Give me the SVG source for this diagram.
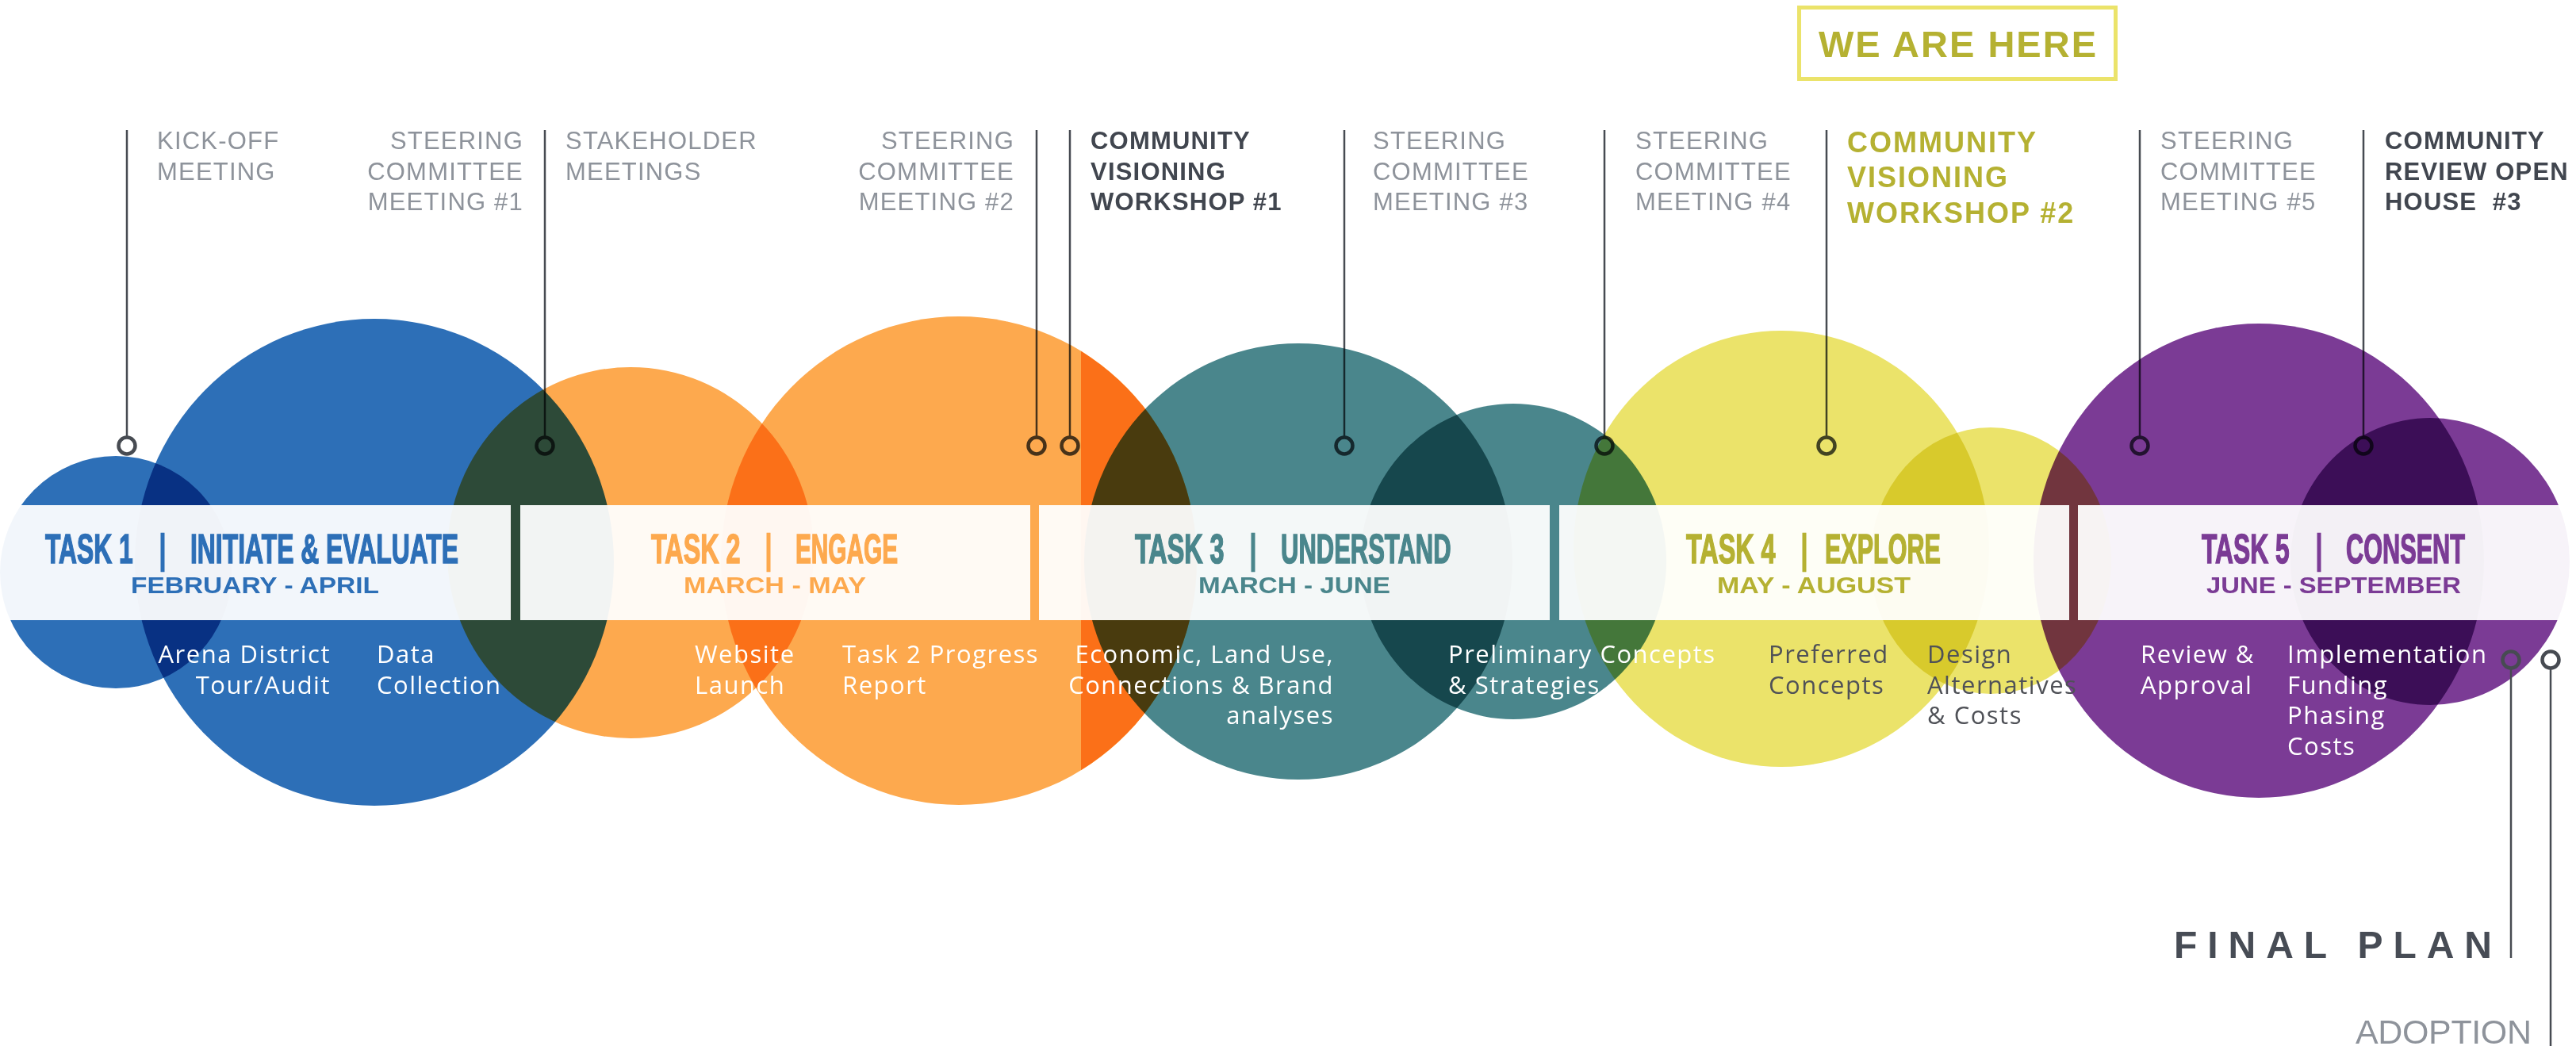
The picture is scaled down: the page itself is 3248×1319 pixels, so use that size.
<svg xmlns="http://www.w3.org/2000/svg" width="3248" height="1319" viewBox="0 0 3248 1319">
  <defs>
    <style>
      .mx { mix-blend-mode: multiply; }
      .blue { fill: #2D6FB7; }
      .orange { fill: #FDA94E; }
      .teal { fill: #4A868C; }
      .yellow { fill: #EBE36A; }
      .purple { fill: #7B3B95; }
      .band { fill: #FFFFFF; fill-opacity: 0.94; }
      .lead { stroke: #474B52; stroke-width: 2.5; fill: none; }
      .ring { stroke: #474B52; stroke-width: 4.5; fill: none; }
      .lbl { font-family: "Liberation Sans", Arial, sans-serif; font-size: 31px; letter-spacing: 1.2px; fill: #8E939B; }
      .cm { font-family: "Liberation Sans", Arial, sans-serif; font-size: 31px; letter-spacing: 1.2px; font-weight: bold; fill: #41464F; }
      .cm2 { font-family: "Liberation Sans", Arial, sans-serif; font-size: 36px; letter-spacing: 2px; font-weight: bold; fill: #B5B132; }
      .hd { font-family: "Liberation Sans", Arial, sans-serif; font-size: 52px; font-weight: bold; stroke-width: 1.6px; }
      .bar { font-family: "Liberation Sans", Arial, sans-serif; font-size: 52px; stroke-width: 0.6px; }
      .dt { font-family: "Liberation Sans", Arial, sans-serif; font-size: 29px; font-weight: bold; }
      .bd { font-family: "Open Sans", "Liberation Sans", sans-serif; font-size: 31px; font-weight: 500; letter-spacing: 1.5px; fill: #FFFFFF; }
      .bdg { fill: #4F5157; }
      .c1 { fill: #2D6FB7; stroke: #2D6FB7; }
      .c2 { fill: #FDA94E; stroke: #FDA94E; }
      .c3 { fill: #4A868C; stroke: #4A868C; }
      .c4 { fill: #B5B132; stroke: #B5B132; }
      .c5 { fill: #7B3B95; stroke: #7B3B95; }
      .dt.c1, .dt.c2, .dt.c3, .dt.c4, .dt.c5 { stroke: none; }
    </style>
    <clipPath id="strip">
      <rect x="1363" y="380" width="260" height="660"/>
    </clipPath>
  </defs>

  <rect x="0" y="0" width="3248" height="1319" fill="#FFFFFF"/>

  <!-- overlapping phase discs, multiplied together -->
  <g id="discs">
    <g id="task1-discs">
      <ellipse class="blue mx" cx="146" cy="721.5" rx="146" ry="146.5"/>
      <ellipse class="blue mx" cx="472" cy="709" rx="302" ry="307"/>
    </g>
    <g id="task2-discs">
      <ellipse class="orange mx" cx="795" cy="697" rx="231" ry="234"/>
      <ellipse class="orange mx" cx="1209" cy="707" rx="300" ry="308"/>
      <ellipse class="orange mx" cx="1209" cy="707" rx="300" ry="308" clip-path="url(#strip)"/>
    </g>
    <g id="task3-discs">
      <ellipse class="teal mx" cx="1637" cy="708" rx="270" ry="275"/>
      <ellipse class="teal mx" cx="1908" cy="708" rx="193" ry="199"/>
    </g>
    <g id="task4-discs">
      <ellipse class="yellow mx" cx="2246" cy="692" rx="262" ry="275"/>
      <ellipse class="yellow mx" cx="2510" cy="707" rx="152" ry="168"/>
    </g>
    <g id="task5-discs">
      <ellipse class="purple mx" cx="2848" cy="707" rx="284" ry="299"/>
      <ellipse class="purple mx" cx="3064" cy="708" rx="176" ry="181"/>
    </g>
  </g>

  <!-- milestone leaders: line from the label down to a ring on the timeline -->
  <g id="connectors">
    <g class="mx">
      <line class="lead" x1="160" y1="164" x2="160" y2="550"/>
      <circle class="ring" cx="160" cy="562" r="10.5"/>
      <line class="lead" x1="687" y1="164" x2="687" y2="550"/>
      <circle class="ring" cx="687" cy="562" r="10.5"/>
      <line class="lead" x1="1307" y1="164" x2="1307" y2="550"/>
      <circle class="ring" cx="1307" cy="562" r="10.5"/>
      <line class="lead" x1="1349" y1="164" x2="1349" y2="550"/>
      <circle class="ring" cx="1349" cy="562" r="10.5"/>
      <line class="lead" x1="1695" y1="164" x2="1695" y2="550"/>
      <circle class="ring" cx="1695" cy="562" r="10.5"/>
      <line class="lead" x1="2023" y1="164" x2="2023" y2="550"/>
      <circle class="ring" cx="2023" cy="562" r="10.5"/>
      <line class="lead" x1="2303" y1="164" x2="2303" y2="550"/>
      <circle class="ring" cx="2303" cy="562" r="10.5"/>
      <line class="lead" x1="2698" y1="164" x2="2698" y2="550"/>
      <circle class="ring" cx="2698" cy="562" r="10.5"/>
      <line class="lead" x1="2980" y1="164" x2="2980" y2="550"/>
      <circle class="ring" cx="2980" cy="562" r="10.5"/>
    </g>
    <circle class="ring" cx="3166" cy="832" r="10.5"/>
    <line class="lead" x1="3166" y1="844" x2="3166" y2="1208"/>
    <circle class="ring" cx="3216" cy="832" r="10.5"/>
    <line class="lead" x1="3216" y1="844" x2="3216" y2="1319"/>
  </g>

  <!-- translucent timeline band, one panel per task -->
  <g id="band">
    <rect class="band" x="0" y="637" width="644" height="145"/>
    <rect class="band" x="656" y="637" width="643" height="145"/>
    <rect class="band" x="1310" y="637" width="644" height="145"/>
    <rect class="band" x="1966" y="637" width="643" height="145"/>
    <rect class="band" x="2620" y="637" width="628" height="145"/>
  </g>

  <!-- task headers use horizontally condensed bold type -->
  <g id="task1">
    <text class="hd c1" transform="translate(57 710) scale(0.611 1)">TASK 1</text>
    <text class="bar c1" x="205" y="710" text-anchor="middle">|</text>
    <text class="hd c1" transform="translate(240 710) scale(0.613 1)">INITIATE &amp; EVALUATE</text>
    <text class="dt c1" x="165" y="748" textLength="313" lengthAdjust="spacingAndGlyphs">FEBRUARY - APRIL</text>
    <text class="bd" x="417" y="836" text-anchor="end">Arena District</text>
    <text class="bd" x="417" y="875" text-anchor="end">Tour/Audit</text>
    <text class="bd" x="475" y="836">Data</text>
    <text class="bd" x="475" y="875">Collection</text>
  </g>

  <g id="task2">
    <text class="hd c2" transform="translate(821 710) scale(0.622 1)">TASK 2</text>
    <text class="bar c2" x="969" y="710" text-anchor="middle">|</text>
    <text class="hd c2" transform="translate(1003 710) scale(0.573 1)">ENGAGE</text>
    <text class="dt c2" x="862" y="748" textLength="230" lengthAdjust="spacingAndGlyphs">MARCH - MAY</text>
    <text class="bd" x="876" y="836">Website</text>
    <text class="bd" x="876" y="875">Launch</text>
    <text class="bd" x="1062" y="836">Task 2 Progress</text>
    <text class="bd" x="1062" y="875">Report</text>
  </g>

  <g id="task3">
    <text class="hd c3" transform="translate(1431 710) scale(0.622 1)">TASK 3</text>
    <text class="bar c3" x="1580" y="710" text-anchor="middle">|</text>
    <text class="hd c3" transform="translate(1615 710) scale(0.596 1)">UNDERSTAND</text>
    <text class="dt c3" x="1511" y="748" textLength="242" lengthAdjust="spacingAndGlyphs">MARCH - JUNE</text>
    <text class="bd" x="1682" y="836" text-anchor="end">Economic, Land Use,</text>
    <text class="bd" x="1682" y="874.5" text-anchor="end">Connections &amp; Brand</text>
    <text class="bd" x="1682" y="913" text-anchor="end">analyses</text>
    <text class="bd" x="1826" y="836">Preliminary Concepts</text>
    <text class="bd" x="1826" y="874.5">&amp; Strategies</text>
  </g>

  <g id="task4">
    <text class="hd c4" transform="translate(2126 710) scale(0.622 1)">TASK 4</text>
    <text class="bar c4" x="2275" y="710" text-anchor="middle">|</text>
    <text class="hd c4" transform="translate(2301 710) scale(0.587 1)">EXPLORE</text>
    <text class="dt c4" x="2165" y="748" textLength="244" lengthAdjust="spacingAndGlyphs">MAY - AUGUST</text>
    <text class="bd bdg" x="2230" y="836">Preferred</text>
    <text class="bd bdg" x="2230" y="874.5">Concepts</text>
    <text class="bd bdg" x="2430" y="836">Design</text>
    <text class="bd bdg" x="2430" y="874.5">Alternatives</text>
    <text class="bd bdg" x="2430" y="913">&amp; Costs</text>
  </g>

  <g id="task5">
    <text class="hd c5" transform="translate(2776 710) scale(0.611 1)">TASK 5</text>
    <text class="bar c5" x="2924" y="710" text-anchor="middle">|</text>
    <text class="hd c5" transform="translate(2958 710) scale(0.59 1)">CONSENT</text>
    <text class="dt c5" x="2782" y="748" textLength="321" lengthAdjust="spacingAndGlyphs">JUNE - SEPTEMBER</text>
    <text class="bd" x="2699" y="836">Review &amp;</text>
    <text class="bd" x="2699" y="874.5">Approval</text>
    <text class="bd" x="2884" y="836">Implementation</text>
    <text class="bd" x="2884" y="874.5">Funding</text>
    <text class="bd" x="2884" y="913">Phasing</text>
    <text class="bd" x="2884" y="951.5">Costs</text>
  </g>

  <!-- milestone labels -->
  <g id="kickoff">
    <text class="lbl" x="198" y="188">KICK-OFF</text>
    <text class="lbl" x="198" y="226.5">MEETING</text>
  </g>
  <g id="steering1">
    <text class="lbl" x="660" y="188" text-anchor="end">STEERING</text>
    <text class="lbl" x="660" y="226.5" text-anchor="end">COMMITTEE</text>
    <text class="lbl" x="660" y="265" text-anchor="end">MEETING #1</text>
  </g>
  <g id="stakeholder">
    <text class="lbl" x="713" y="188">STAKEHOLDER</text>
    <text class="lbl" x="713" y="226.5">MEETINGS</text>
  </g>
  <g id="steering2">
    <text class="lbl" x="1279" y="188" text-anchor="end">STEERING</text>
    <text class="lbl" x="1279" y="226.5" text-anchor="end">COMMITTEE</text>
    <text class="lbl" x="1279" y="265" text-anchor="end">MEETING #2</text>
  </g>
  <g id="workshop1">
    <text class="cm" x="1375" y="188">COMMUNITY</text>
    <text class="cm" x="1375" y="226.5">VISIONING</text>
    <text class="cm" x="1375" y="265">WORKSHOP #1</text>
  </g>
  <g id="steering3">
    <text class="lbl" x="1731" y="188">STEERING</text>
    <text class="lbl" x="1731" y="226.5">COMMITTEE</text>
    <text class="lbl" x="1731" y="265">MEETING #3</text>
  </g>
  <g id="steering4">
    <text class="lbl" x="2062" y="188">STEERING</text>
    <text class="lbl" x="2062" y="226.5">COMMITTEE</text>
    <text class="lbl" x="2062" y="265">MEETING #4</text>
  </g>
  <g id="workshop2">
    <text class="cm2" x="2329" y="192">COMMUNITY</text>
    <text class="cm2" x="2329" y="236">VISIONING</text>
    <text class="cm2" x="2329" y="281">WORKSHOP #2</text>
  </g>
  <g id="here">
    <rect x="2268.5" y="9.5" width="399" height="90" fill="none" stroke="#EBE36A" stroke-width="5"/>
    <text x="2293" y="72" textLength="350" font-family="Liberation Sans, Arial, sans-serif" font-size="47" font-weight="bold" fill="#B5B132">WE ARE HERE</text>
  </g>
  <g id="steering5">
    <text class="lbl" x="2724" y="188">STEERING</text>
    <text class="lbl" x="2724" y="226.5">COMMITTEE</text>
    <text class="lbl" x="2724" y="265">MEETING #5</text>
  </g>
  <g id="openhouse3">
    <text class="cm" x="3007" y="188">COMMUNITY</text>
    <text class="cm" x="3007" y="226.5">REVIEW OPEN</text>
    <text class="cm" x="3007" y="265" style="white-space: pre">HOUSE  #3</text>
  </g>
  <g id="final-plan">
    <text x="2741" y="1208" textLength="401" font-family="Liberation Sans, Arial, sans-serif" font-size="48" font-weight="bold" fill="#474C55">FINAL PLAN</text>
  </g>
  <g id="adoption">
    <text x="2970" y="1316" textLength="222" font-family="Liberation Sans, Arial, sans-serif" font-size="43" fill="#8E939B">ADOPTION</text>
  </g>
</svg>
